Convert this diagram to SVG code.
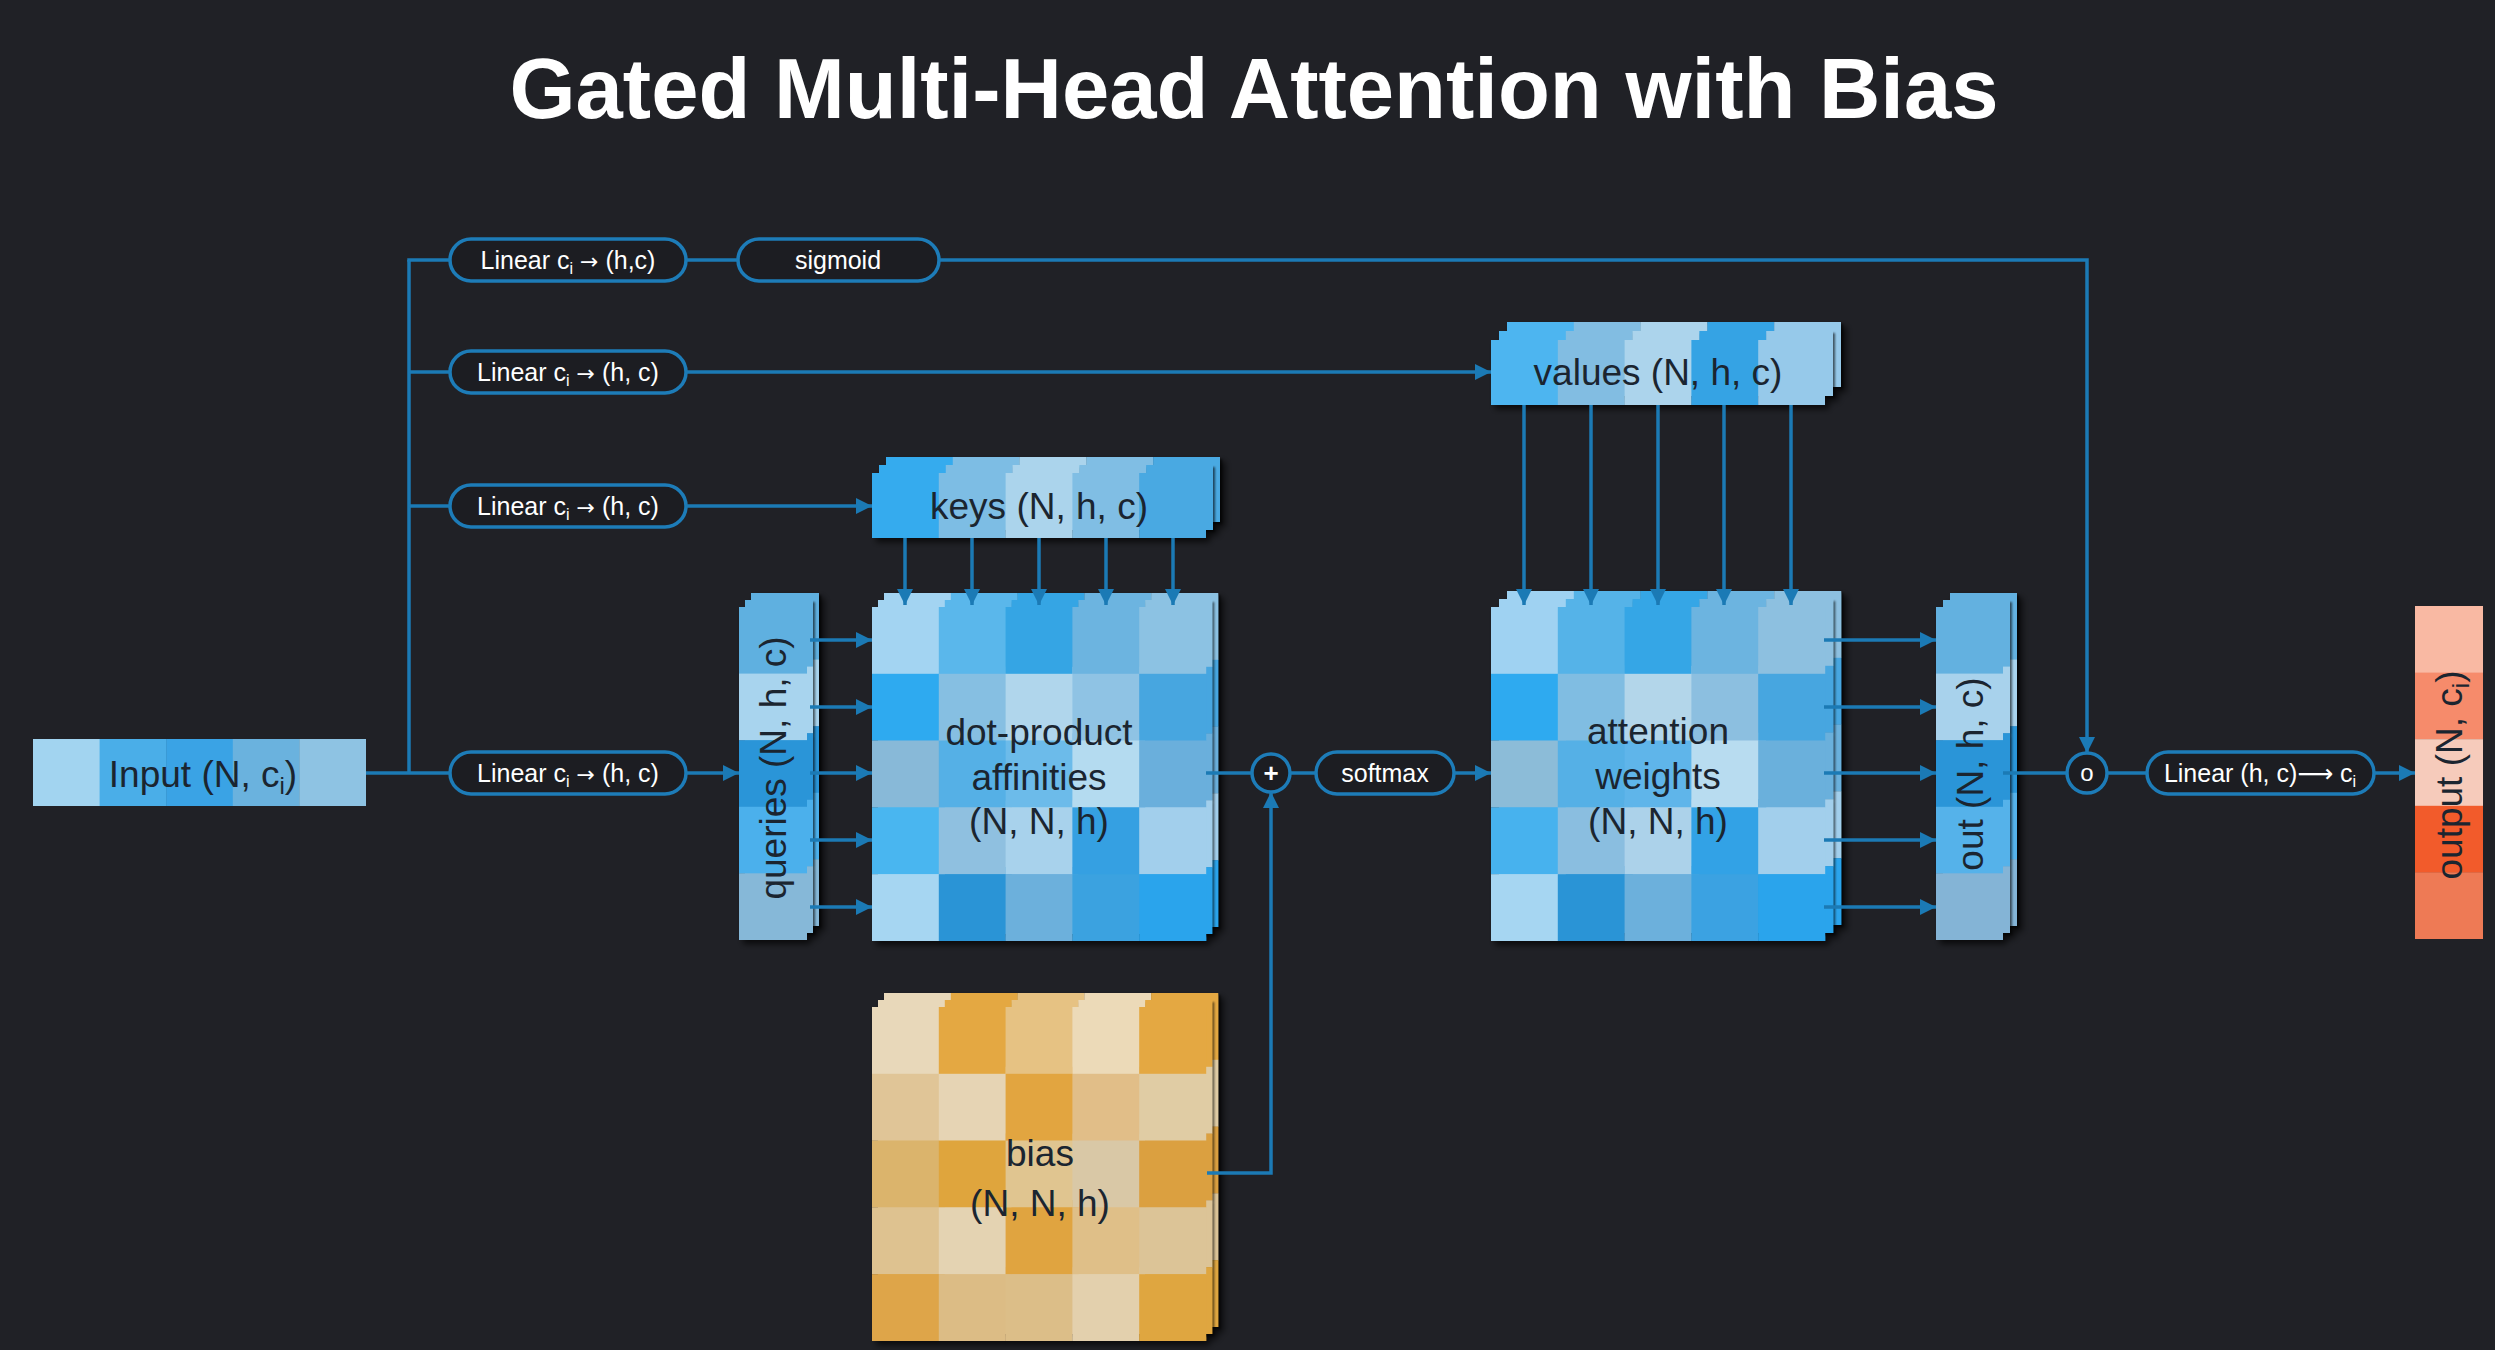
<svg xmlns="http://www.w3.org/2000/svg" xmlns:xlink="http://www.w3.org/1999/xlink" width="2495" height="1350" viewBox="0 0 2495 1350">
<defs>
<style>
.title{font-family:"Liberation Sans",Arial,sans-serif;font-weight:bold;font-size:85px;fill:#ffffff;text-anchor:middle}
.pill{fill:#1c1d22;stroke:#1d7cb8;stroke-width:3.5}
.pt{font-family:"Liberation Sans","DejaVu Sans",sans-serif;font-size:25px;fill:#ffffff;text-anchor:middle}
.ar{font-family:"DejaVu Sans",sans-serif;font-size:22px}
.bt{font-family:"Liberation Sans",Arial,sans-serif;font-size:37px;fill:#1b2530;text-anchor:middle}
.cn{fill:none;stroke:#1b7ab5;stroke-width:3.5}
.arr{marker-end:url(#ah)}
.op{fill:#1c1d22;stroke:#1d7cb8;stroke-width:3.5}
.ot{font-family:"Liberation Sans","DejaVu Sans",sans-serif;fill:#ffffff;text-anchor:middle}
</style>
<marker id="ah" markerWidth="16" markerHeight="16" refX="16" refY="8" orient="auto" markerUnits="userSpaceOnUse"><path d="M0,0 L16,8 L0,16 Z" fill="#1b7ab5"/></marker>
<filter id="sh" x="-10%" y="-10%" width="130%" height="130%"><feDropShadow dx="4" dy="4" stdDeviation="3" flood-color="#000" flood-opacity="0.7"/></filter>
<filter id="ls" x="-10%" y="-10%" width="130%" height="130%"><feDropShadow dx="2" dy="2" stdDeviation="1.2" flood-color="#000" flood-opacity="0.6"/></filter>

<g id="g-dp">
<rect x="0" y="0" width="67" height="67" fill="#a3d4f2"/><rect x="66.8" y="0" width="67" height="67" fill="#5ab7eb"/><rect x="133.6" y="0" width="67" height="67" fill="#36a5e4"/><rect x="200.4" y="0" width="67" height="67" fill="#6cb4e0"/><rect x="267.2" y="0" width="67" height="67" fill="#8cc2e3"/>
<rect x="0" y="66.8" width="67" height="67" fill="#2eaaf0"/><rect x="66.8" y="66.8" width="67" height="67" fill="#86bfe2"/><rect x="133.6" y="66.8" width="67" height="67" fill="#b0d6ec"/><rect x="200.4" y="66.8" width="67" height="67" fill="#8fc3e4"/><rect x="267.2" y="66.8" width="67" height="67" fill="#46a6e0"/>
<rect x="0" y="133.6" width="67" height="67" fill="#88b9d8"/><rect x="66.8" y="133.6" width="67" height="67" fill="#54b0e6"/><rect x="133.6" y="133.6" width="67" height="67" fill="#6cbbea"/><rect x="200.4" y="133.6" width="67" height="67" fill="#b4dbf0"/><rect x="267.2" y="133.6" width="67" height="67" fill="#6aafdc"/>
<rect x="0" y="200.4" width="67" height="67" fill="#4ab6f0"/><rect x="66.8" y="200.4" width="67" height="67" fill="#8fc0e0"/><rect x="133.6" y="200.4" width="67" height="67" fill="#a8d2ec"/><rect x="200.4" y="200.4" width="67" height="67" fill="#34a0e2"/><rect x="267.2" y="200.4" width="67" height="67" fill="#a2cfec"/>
<rect x="0" y="267.2" width="67" height="66.8" fill="#a6d6f2"/><rect x="66.8" y="267.2" width="67" height="66.8" fill="#2c94d6"/><rect x="133.6" y="267.2" width="67" height="66.8" fill="#6cb0dc"/><rect x="200.4" y="267.2" width="67" height="66.8" fill="#3aa2e0"/><rect x="267.2" y="267.2" width="67" height="66.8" fill="#2ba4ec"/>
</g>

<g id="g-att">
<rect x="0" y="0" width="67" height="67" fill="#9fd2f2"/><rect x="66.8" y="0" width="67" height="67" fill="#55b3e8"/><rect x="133.6" y="0" width="67" height="67" fill="#35a6e6"/><rect x="200.4" y="0" width="67" height="67" fill="#6cb4e0"/><rect x="267.2" y="0" width="67" height="67" fill="#8dc0e0"/>
<rect x="0" y="66.8" width="67" height="67" fill="#2eaaf0"/><rect x="66.8" y="66.8" width="67" height="67" fill="#80bde2"/><rect x="133.6" y="66.8" width="67" height="67" fill="#b3d6ea"/><rect x="200.4" y="66.8" width="67" height="67" fill="#8cbfe0"/><rect x="267.2" y="66.8" width="67" height="67" fill="#46a6e0"/>
<rect x="0" y="133.6" width="67" height="67" fill="#8cbcd8"/><rect x="66.8" y="133.6" width="67" height="67" fill="#55b0e6"/><rect x="133.6" y="133.6" width="67" height="67" fill="#5fb5ea"/><rect x="200.4" y="133.6" width="67" height="67" fill="#b8dcf0"/><rect x="267.2" y="133.6" width="67" height="67" fill="#6ab0dc"/>
<rect x="0" y="200.4" width="67" height="67" fill="#46b2ee"/><rect x="66.8" y="200.4" width="67" height="67" fill="#8abee0"/><rect x="133.6" y="200.4" width="67" height="67" fill="#acd2ea"/><rect x="200.4" y="200.4" width="67" height="67" fill="#30a2e6"/><rect x="267.2" y="200.4" width="67" height="67" fill="#a2cfec"/>
<rect x="0" y="267.2" width="67" height="66.8" fill="#a6d6f2"/><rect x="66.8" y="267.2" width="67" height="66.8" fill="#2c94d6"/><rect x="133.6" y="267.2" width="67" height="66.8" fill="#6cb0dc"/><rect x="200.4" y="267.2" width="67" height="66.8" fill="#3aa2e2"/><rect x="267.2" y="267.2" width="67" height="66.8" fill="#2aa4ec"/>
</g>

<g id="g-bias">
<rect x="0" y="0" width="67" height="67" fill="#e8d8ba"/><rect x="66.8" y="0" width="67" height="67" fill="#e4a843"/><rect x="133.6" y="0" width="67" height="67" fill="#e6c283"/><rect x="200.4" y="0" width="67" height="67" fill="#ecdab8"/><rect x="267.2" y="0" width="67" height="67" fill="#e4a843"/>
<rect x="0" y="66.8" width="67" height="67" fill="#e0c597"/><rect x="66.8" y="66.8" width="67" height="67" fill="#e6d4b4"/><rect x="133.6" y="66.8" width="67" height="67" fill="#e2a53f"/><rect x="200.4" y="66.8" width="67" height="67" fill="#e1be88"/><rect x="267.2" y="66.8" width="67" height="67" fill="#e0cca4"/>
<rect x="0" y="133.6" width="67" height="67" fill="#dbb46c"/><rect x="66.8" y="133.6" width="67" height="67" fill="#dfa53d"/><rect x="133.6" y="133.6" width="67" height="67" fill="#e0c590"/><rect x="200.4" y="133.6" width="67" height="67" fill="#d9c8a6"/><rect x="267.2" y="133.6" width="67" height="67" fill="#dba040"/>
<rect x="0" y="200.4" width="67" height="67" fill="#dec290"/><rect x="66.8" y="200.4" width="67" height="67" fill="#e4d3b2"/><rect x="133.6" y="200.4" width="67" height="67" fill="#e0a440"/><rect x="200.4" y="200.4" width="67" height="67" fill="#dfbf88"/><rect x="267.2" y="200.4" width="67" height="67" fill="#dcc497"/>
<rect x="0" y="267.2" width="67" height="66.8" fill="#dea548"/><rect x="66.8" y="267.2" width="67" height="66.8" fill="#dcbc85"/><rect x="133.6" y="267.2" width="67" height="66.8" fill="#dcbe88"/><rect x="200.4" y="267.2" width="67" height="66.8" fill="#e3d0ad"/><rect x="267.2" y="267.2" width="67" height="66.8" fill="#dfa63f"/>
</g>

<g id="g-keys">
<rect x="0" y="0" width="67" height="65" fill="#36abee"/><rect x="66.8" y="0" width="67" height="65" fill="#7dbde4"/><rect x="133.6" y="0" width="67" height="65" fill="#abd4ec"/><rect x="200.4" y="0" width="67" height="65" fill="#80bee4"/><rect x="267.2" y="0" width="66.8" height="65" fill="#48a9e2"/>
</g>
<g id="g-vals">
<rect x="0" y="0" width="67" height="65" fill="#4db5f0"/><rect x="66.8" y="0" width="67" height="65" fill="#82bde2"/><rect x="133.6" y="0" width="67" height="65" fill="#acd4ec"/><rect x="200.4" y="0" width="67" height="65" fill="#36a3e4"/><rect x="267.2" y="0" width="66.8" height="65" fill="#96c9ea"/>
</g>
<g id="g-q">
<rect x="0" y="0" width="68" height="67" fill="#5fb0e0"/><rect x="0" y="66.6" width="68" height="67" fill="#a8d4ee"/><rect x="0" y="133.2" width="68" height="67" fill="#2a95d8"/><rect x="0" y="199.8" width="68" height="67" fill="#4cb0ec"/><rect x="0" y="266.4" width="68" height="66.6" fill="#86b8d8"/>
</g>
<g id="g-out">
<rect x="0" y="0" width="67" height="67" fill="#63b1e0"/><rect x="0" y="66.6" width="67" height="67" fill="#a8d2ec"/><rect x="0" y="133.2" width="67" height="67" fill="#2a95d8"/><rect x="0" y="199.8" width="67" height="67" fill="#55b2ea"/><rect x="0" y="266.4" width="67" height="66.6" fill="#84b4d6"/>
</g>
</defs>

<rect x="0" y="0" width="2495" height="1350" fill="#202126"/>

<text class="title" x="1254" y="118">Gated Multi-Head Attention with Bias</text>

<g id="nodes">
<g id="input">
<rect x="33" y="739" width="67" height="67" fill="#a2d4f0"/><rect x="99.6" y="739" width="67" height="67" fill="#4aaee8"/><rect x="166.2" y="739" width="67" height="67" fill="#3aa3e5"/><rect x="232.8" y="739" width="67" height="67" fill="#6ab2de"/><rect x="299.4" y="739" width="66.6" height="67" fill="#8ec3e3"/>
<text class="bt" x="203" y="787">Input (N, c<tspan font-size="24" dy="7">i</tspan><tspan dy="-7">)</tspan></text>
</g>

<g id="linear-gate">
<rect class="pill" x="450" y="239" width="236" height="42" rx="21"/>
<text class="pt" x="568" y="269">Linear c<tspan font-size="16" dy="5">i</tspan><tspan dy="-5"> </tspan><tspan class="ar">→</tspan> (h,c)</text>
</g>
<g id="sigmoid">
<rect class="pill" x="738" y="239" width="201" height="42" rx="21"/>
<text class="pt" x="838" y="269">sigmoid</text>
</g>
<g id="linear-values">
<rect class="pill" x="450" y="351" width="236" height="42" rx="21"/>
<text class="pt" x="568" y="381">Linear c<tspan font-size="16" dy="5">i</tspan><tspan dy="-5"> </tspan><tspan class="ar">→</tspan> (h, c)</text>
</g>
<g id="linear-keys">
<rect class="pill" x="450" y="485" width="236" height="42" rx="21"/>
<text class="pt" x="568" y="515">Linear c<tspan font-size="16" dy="5">i</tspan><tspan dy="-5"> </tspan><tspan class="ar">→</tspan> (h, c)</text>
</g>
<g id="linear-queries">
<rect class="pill" x="450" y="752" width="236" height="42" rx="21"/>
<text class="pt" x="568" y="782">Linear c<tspan font-size="16" dy="5">i</tspan><tspan dy="-5"> </tspan><tspan class="ar">→</tspan> (h, c)</text>
</g>

<g id="keys">
<g filter="url(#sh)">
<use href="#g-keys" x="886" y="457" filter="url(#ls)"/>
<use href="#g-keys" x="879" y="465" filter="url(#ls)"/>
<use href="#g-keys" x="872" y="473"/>
</g>
<text class="bt" x="1039" y="519">keys (N, h, c)</text>
</g>

<g id="values">
<g filter="url(#sh)">
<use href="#g-vals" x="1507" y="322" filter="url(#ls)"/>
<use href="#g-vals" x="1499" y="331" filter="url(#ls)"/>
<use href="#g-vals" x="1491" y="340"/>
</g>
<text class="bt" x="1658" y="385">values (N, h, c)</text>
</g>

<g id="queries">
<g filter="url(#sh)">
<use href="#g-q" x="751" y="593" filter="url(#ls)"/>
<use href="#g-q" x="745" y="600" filter="url(#ls)"/>
<use href="#g-q" x="739" y="607"/>
</g>
<text class="bt" transform="translate(773,768) rotate(-90)" x="0" y="13">queries (N, h, c)</text>
</g>

<g id="dot-product">
<g filter="url(#sh)">
<use href="#g-dp" x="884" y="593" filter="url(#ls)"/>
<use href="#g-dp" x="878" y="600" filter="url(#ls)"/>
<use href="#g-dp" x="872" y="607"/>
</g>
<text class="bt" x="1039" y="745">dot-product</text>
<text class="bt" x="1039" y="790">affinities</text>
<text class="bt" x="1039" y="834">(N, N, h)</text>
</g>

<g id="bias">
<g filter="url(#sh)">
<use href="#g-bias" x="884" y="993" filter="url(#ls)"/>
<use href="#g-bias" x="878" y="1000" filter="url(#ls)"/>
<use href="#g-bias" x="872" y="1007"/>
</g>
<text class="bt" x="1040" y="1166">bias</text>
<text class="bt" x="1040" y="1216">(N, N, h)</text>
</g>

<g id="add">
<circle class="op" cx="1271" cy="773" r="19"/>
<text class="ot" x="1271" y="782" font-size="26" font-weight="bold">+</text>
</g>

<g id="softmax">
<rect class="pill" x="1316" y="752" width="138" height="42" rx="21"/>
<text class="pt" x="1385" y="782">softmax</text>
</g>

<g id="attention-weights">
<g filter="url(#sh)">
<use href="#g-att" x="1507" y="591" filter="url(#ls)"/>
<use href="#g-att" x="1499" y="599" filter="url(#ls)"/>
<use href="#g-att" x="1491" y="607"/>
</g>
<text class="bt" x="1658" y="744">attention</text>
<text class="bt" x="1658" y="789">weights</text>
<text class="bt" x="1658" y="834">(N, N, h)</text>
</g>

<g id="out">
<g filter="url(#sh)">
<use href="#g-out" x="1950" y="593" filter="url(#ls)"/>
<use href="#g-out" x="1943" y="600" filter="url(#ls)"/>
<use href="#g-out" x="1936" y="607"/>
</g>
<text class="bt" transform="translate(1970,774) rotate(-90)" x="0" y="13">out (N, h, c)</text>
</g>

<g id="gate">
<circle class="op" cx="2087" cy="773" r="20"/>
<text class="ot" x="2087" y="781" font-size="24">o</text>
</g>

<g id="linear-out">
<rect class="pill" x="2147" y="752" width="227" height="42" rx="21"/>
<text class="pt" x="2260" y="782">Linear (h, c)⟶ c<tspan font-size="16" dy="5">i</tspan></text>
</g>

<g id="output">
<rect x="2415" y="606" width="68" height="67" fill="#f9b9a3"/><rect x="2415" y="672.6" width="68" height="67" fill="#f68b6b"/><rect x="2415" y="739.2" width="68" height="67" fill="#f6cbbb"/><rect x="2415" y="805.8" width="68" height="67" fill="#f25b2b"/><rect x="2415" y="872.4" width="68" height="66.6" fill="#ee7a55"/>
<text class="bt" transform="translate(2449,775) rotate(-90)" x="0" y="13">output (N, c<tspan font-size="24" dy="7">i</tspan><tspan dy="-7">)</tspan></text>
</g>
</g>

<g id="connectors">
<path class="cn" d="M366,773 H450"/>
<path class="cn" d="M409,773 V260"/>
<path class="cn" d="M407.25,260 H450"/>
<path class="cn" d="M409,372 H450"/>
<path class="cn" d="M409,506 H450"/>
<path class="cn" d="M686,260 H738"/>
<path class="cn arr" d="M939,260 H2087 V753"/>
<path class="cn arr" d="M686,372 H1491"/>
<path class="cn arr" d="M686,506 H872"/>
<path class="cn arr" d="M686,773 H739"/>
<path class="cn arr" d="M905,538 V605"/>
<path class="cn arr" d="M972,538 V605"/>
<path class="cn arr" d="M1039,538 V605"/>
<path class="cn arr" d="M1106,538 V605"/>
<path class="cn arr" d="M1173,538 V605"/>
<path class="cn arr" d="M810,640 H872"/>
<path class="cn arr" d="M810,707 H872"/>
<path class="cn arr" d="M810,773 H872"/>
<path class="cn arr" d="M810,840 H872"/>
<path class="cn arr" d="M810,907 H872"/>
<path class="cn" d="M1206,773 H1252"/>
<path class="cn arr" d="M1207,1173 H1271 V792"/>
<path class="cn" d="M1290,773 H1316"/>
<path class="cn arr" d="M1454,773 H1491"/>
<path class="cn arr" d="M1524,405 V605"/>
<path class="cn arr" d="M1591,405 V605"/>
<path class="cn arr" d="M1658,405 V605"/>
<path class="cn arr" d="M1724,405 V605"/>
<path class="cn arr" d="M1791,405 V605"/>
<path class="cn arr" d="M1824,640 H1936"/>
<path class="cn arr" d="M1824,707 H1936"/>
<path class="cn arr" d="M1824,773 H1936"/>
<path class="cn arr" d="M1824,840 H1936"/>
<path class="cn arr" d="M1824,907 H1936"/>
<path class="cn" d="M2003,773 H2067"/>
<path class="cn" d="M2107,773 H2147"/>
<path class="cn arr" d="M2374,773 H2415"/>
</g>
</svg>
